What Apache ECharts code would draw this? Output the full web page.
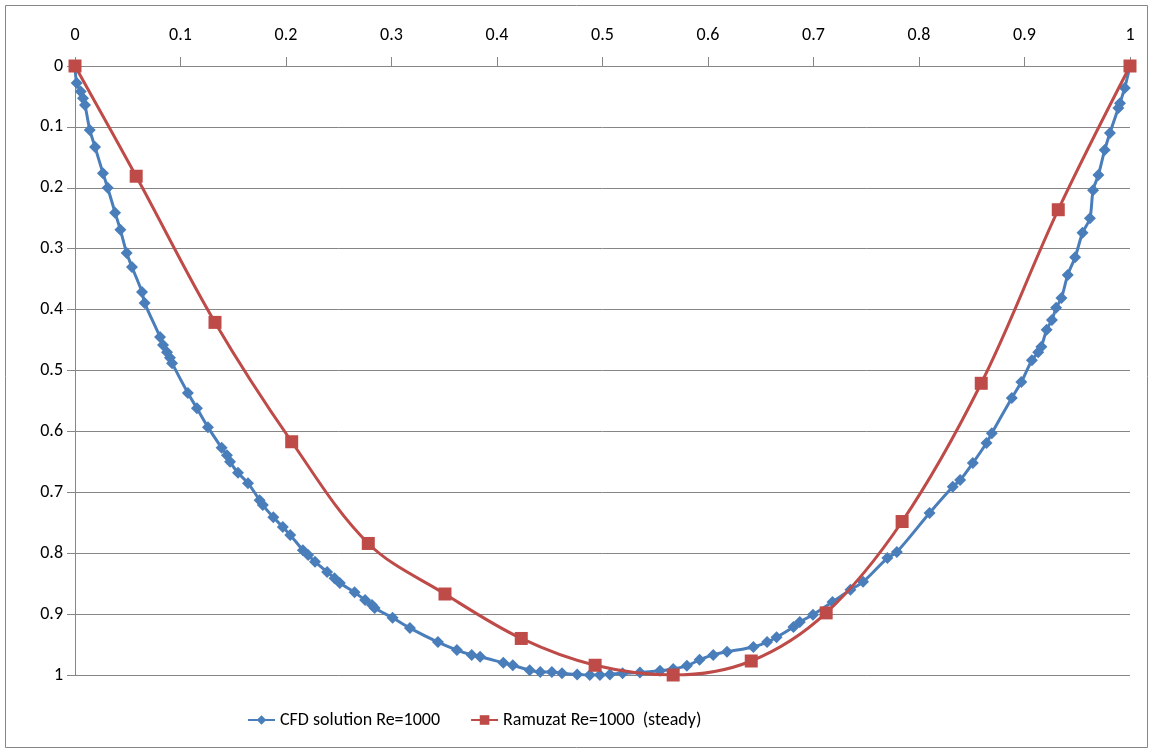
<!DOCTYPE html>
<html>
<head>
<meta charset="utf-8">
<script src="https://cdn.jsdelivr.net/npm/echarts@6/dist/echarts.min.js"></script>
<style>
html,body{margin:0;padding:0;background:#fff;}
#chart{width:1151px;height:751px;}
</style>
</head>
<body>
<div id="chart"></div>
<script>
// CFD solution Re=1000
const cfdX = [0, 0.0016, 0.0054, 0.0076, 0.0095, 0.014, 0.019, 0.0265, 0.031, 0.038, 0.043, 0.049, 0.054, 0.0635, 0.066,
  0.0806, 0.0834, 0.0872, 0.090, 0.092, 0.107, 0.1156, 0.126, 0.139, 0.144, 0.147, 0.1545, 0.164, 0.175, 0.178, 0.188, 0.197,
  0.204, 0.216, 0.221, 0.2275, 0.239, 0.246, 0.251, 0.265, 0.275, 0.2815, 0.284, 0.301, 0.3175, 0.344, 0.362, 0.376, 0.384,
  0.406, 0.415, 0.431, 0.441, 0.452, 0.4616, 0.476, 0.488, 0.4976, 0.507, 0.519, 0.5355, 0.5545, 0.567, 0.580, 0.592, 0.605,
  0.618, 0.643, 0.656, 0.665, 0.681, 0.687, 0.6995, 0.718, 0.735, 0.747, 0.770, 0.779, 0.810, 0.832, 0.839, 0.851,
  0.864, 0.869, 0.888, 0.897, 0.907, 0.913, 0.916, 0.921, 0.926, 0.930, 0.935, 0.941, 0.948, 0.955, 0.962, 0.965, 0.970,
  0.976, 0.981, 0.989, 0.9905, 0.995, 1];
const cfdY = [0, 0.028, 0.042, 0.053, 0.064, 0.105, 0.133, 0.176, 0.200, 0.241, 0.269, 0.307, 0.330, 0.371, 0.389,
  0.445, 0.458, 0.470, 0.479, 0.488, 0.537, 0.562, 0.593, 0.627, 0.639, 0.650, 0.668, 0.685, 0.713, 0.721, 0.741, 0.757,
  0.770, 0.795, 0.803, 0.814, 0.831, 0.841, 0.849, 0.864, 0.877, 0.885, 0.890, 0.906, 0.923, 0.946, 0.959, 0.967, 0.970,
  0.980, 0.984, 0.992, 0.995, 0.995, 0.997, 0.999, 1.0, 1.0, 0.999, 0.997, 0.996, 0.993, 0.990, 0.985, 0.975, 0.967,
  0.962, 0.954, 0.946, 0.938, 0.921, 0.913, 0.901, 0.880, 0.860, 0.847, 0.808, 0.798, 0.734, 0.691, 0.680, 0.652,
  0.619, 0.603, 0.545, 0.519, 0.483, 0.470, 0.461, 0.433, 0.417, 0.397, 0.381, 0.343, 0.314, 0.274, 0.250, 0.204, 0.179,
  0.138, 0.110, 0.069, 0.061, 0.036, 0];
// Ramuzat Re=1000 (steady)
const ramX = [0, 0.058, 0.1327, 0.2054, 0.278, 0.3507, 0.423, 0.493, 0.567, 0.641, 0.712, 0.784, 0.859, 0.932, 1];
const ramY = [0, 0.181, 0.421, 0.617, 0.784, 0.867, 0.940, 0.984, 1.0, 0.977, 0.898, 0.748, 0.521, 0.236, 0];

const seriesNames = ['CFD solution Re=1000', 'Ramuzat Re=1000  (steady)'];
const axisMin = 0, axisMax = 1, axisStep = 0.1;

const FONT = "Carlito, 'Liberation Sans Narrow', Lato, sans-serif";
const chart = echarts.init(document.getElementById('chart'), null, {renderer: 'canvas'});
const zip = (xs, ys) => xs.map((x, i) => [x, ys[i]]);
chart.setOption({
  animation: false,
  backgroundColor: '#fff',
  graphic: [{
    type: 'rect', left: 5, top: 5, z: -1,
    shape: {width: 1142, height: 742},
    style: {fill: '#fff', stroke: '#868686', lineWidth: 1}
  }],
  grid: {left: 75, right: 21, top: 66, bottom: 76, containLabel: false},
  legend: {
    bottom: 17, left: 242,
    itemWidth: 27, itemHeight: 12, itemGap: 30,
    textStyle: {fontFamily: FONT, fontSize: 18, color: '#000'},
    data: seriesNames
  },
  xAxis: {
    type: 'value', position: 'top', min: axisMin, max: axisMax, interval: axisStep,
    axisLine: {show: true, lineStyle: {color: '#868686', width: 1}},
    axisTick: {show: true, inside: false, length: 9, lineStyle: {color: '#868686'}},
    axisLabel: {fontFamily: FONT, fontSize: 18, color: '#000', margin: 22},
    splitLine: {show: false}
  },
  yAxis: {
    type: 'value', inverse: true, min: axisMin, max: axisMax, interval: axisStep,
    axisLine: {show: true, lineStyle: {color: '#868686', width: 1}},
    axisTick: {show: true, inside: false, length: 8, lineStyle: {color: '#868686'}},
    axisLabel: {fontFamily: FONT, fontSize: 18, color: '#000', margin: 12},
    splitLine: {show: true, lineStyle: {color: '#868686', width: 1}}
  },
  series: [
    {
      name: seriesNames[0], type: 'line', data: zip(cfdX, cfdY),
      smooth: 0.3, symbol: 'diamond', symbolSize: 12, showAllSymbol: true,
      lineStyle: {color: '#4A7EBB', width: 3},
      itemStyle: {color: '#4A7EBB'}, z: 3
    },
    {
      name: seriesNames[1], type: 'line', data: zip(ramX, ramY),
      smooth: 0.35, symbol: 'rect', symbolSize: 13, showAllSymbol: true,
      lineStyle: {color: '#BE4B48', width: 3},
      itemStyle: {color: '#BE4B48'}, z: 4
    }
  ]
});
</script>
</body>
</html>
